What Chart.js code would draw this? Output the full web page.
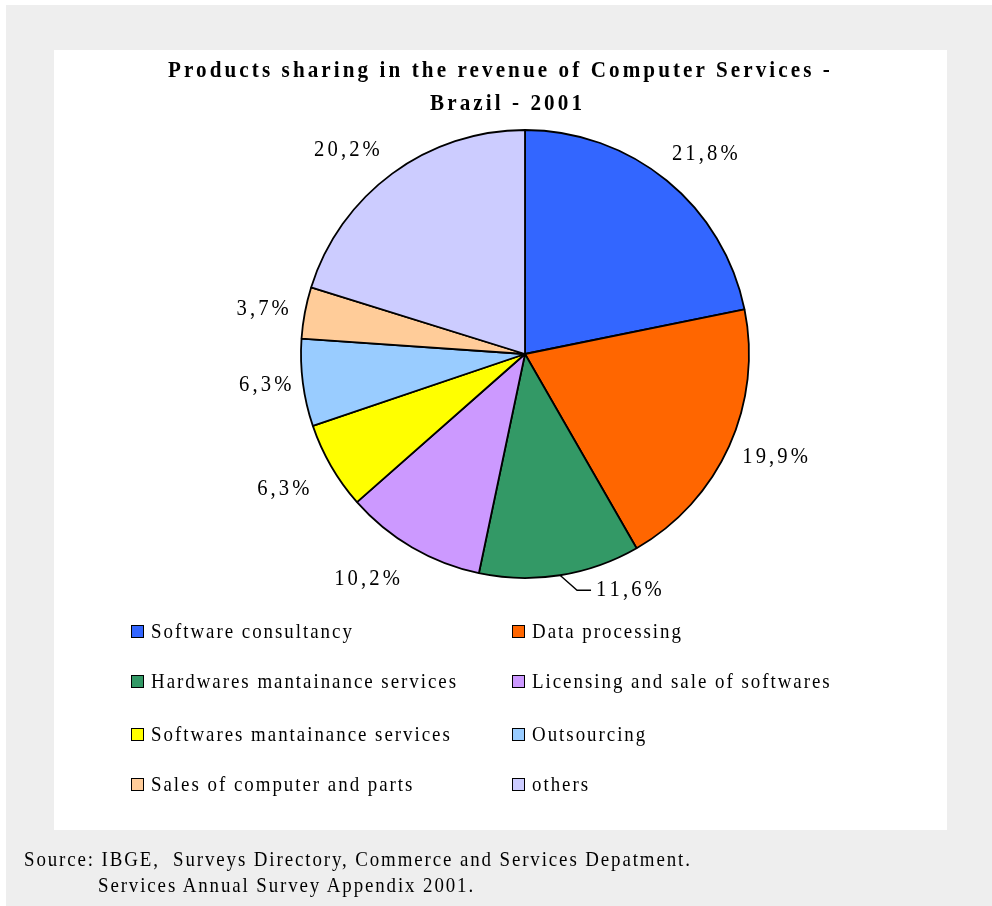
<!DOCTYPE html>
<html>
<head>
<meta charset="utf-8">
<script src="https://cdn.jsdelivr.net/npm/chart.js@4"></script>
<style>
  html, body { margin:0; padding:0; background:#fff; width:992px; height:906px; overflow:hidden; }
  #bg { position:absolute; left:6px; top:5px; width:986px; height:901px; background:#eeeeee; }
  #panel { position:absolute; left:54px; top:50px; width:893px; height:780px; background:#fff; }
  #c { position:absolute; left:0; top:0; }
  .txt { position:absolute; font-family:"Liberation Serif","Times New Roman",serif; color:#000; white-space:nowrap; }
  #title { left:54px; width:893px; top:53px; text-align:center; font-weight:bold; font-size:24px; letter-spacing:3.5px; line-height:33px; transform:scaleX(0.88); transform-origin:50% 0; }
  #title .l2 { position:relative; left:8px; }
  #legend { left:131px; top:620px; display:grid; grid-template-columns:381px 381px; grid-template-rows:50px 53px 50px 30px; }
  .li { display:flex; align-items:flex-start; font-size:21px; height:22px; line-height:22px; }
  .li .lt { display:inline-block; letter-spacing:2.2px; transform:scaleX(0.9); transform-origin:0 0; }
  .mk { width:11px; height:11px; border:1.5px solid #000; margin-right:7px; margin-top:5px; flex:none; }
  .src { font-size:21px; letter-spacing:2.1px; line-height:26px; transform:scaleX(0.9); transform-origin:0 0; }
</style>
</head>
<body>
<div id="bg"></div>
<div id="panel"></div>
<canvas id="c" width="992" height="906"></canvas>
<div id="title" class="txt"></div>
<div id="legend" class="txt"></div>
<div id="src1" class="txt src" style="left:24px; top:846px;"></div>
<div id="src2" class="txt src" style="left:98px; top:872px;"></div>
<script>
const titleLines = ["Products sharing in the revenue of Computer Services -", "Brazil - 2001"];
const categories = [
  "Software consultancy",
  "Data processing",
  "Hardwares mantainance services",
  "Licensing and sale of softwares",
  "Softwares mantainance services",
  "Outsourcing",
  "Sales of computer and parts",
  "others"
];
const shares = [21.8, 19.9, 11.6, 10.2, 6.3, 6.3, 3.7, 20.2];
const colors = ["#3366ff", "#ff6600", "#339966", "#cc99ff", "#ffff00", "#99ccff", "#ffcc99", "#ccccff"];
const sourceLines = [
  "Source: IBGE,\u00a0 Surveys Directory, Commerce and Services Depatment.",
  "Services Annual Survey Appendix 2001."
];
// label placement style: nudges (px) from the radial position
const labelNudge = [[9, 7], [4, -10], [0, 0], [-22, -10], [-8, -2], [8, -6], [3, 3], [-18, 11]];
const leaderIndex = 2;

document.getElementById('title').innerHTML = titleLines[0] + '<br><span class="l2">' + titleLines[1] + '</span>';
document.getElementById('src1').textContent = sourceLines[0];
document.getElementById('src2').textContent = sourceLines[1];
const leg = document.getElementById('legend');
categories.forEach((c, i) => {
  const d = document.createElement('div');
  d.className = 'li';
  d.innerHTML = '<span class="mk" style="background:' + colors[i] + '"></span><span class="lt">' + c + '</span>';
  leg.appendChild(d);
});

function fmt(v) { return v.toFixed(1).replace('.', ',') + '%'; }

const SX = 0.86, LS = 3.1, FS = 24;
function textWidth(ctx, text) {
  let w = 0;
  for (const ch of text) w += ctx.measureText(ch).width * SX;
  return w + LS * (text.length - 1);
}
function drawSpaced(ctx, text, x, yCenter, align) {
  const w = textWidth(ctx, text);
  let sx = align === 'center' ? x - w / 2 : x;
  const base = yCenter + FS * 0.338;
  for (const ch of text) {
    ctx.save();
    ctx.translate(sx, base);
    ctx.scale(SX, 1);
    ctx.fillText(ch, 0, 0);
    ctx.restore();
    sx += ctx.measureText(ch).width * SX + LS;
  }
}

const labelPlugin = {
  id: 'pctLabels',
  afterDatasetsDraw(chart) {
    const ctx = chart.ctx;
    const meta = chart.getDatasetMeta(0);
    ctx.save();
    ctx.font = FS + 'px "Liberation Serif", serif';
    ctx.fillStyle = '#000';
    ctx.textBaseline = 'alphabetic';
    ctx.textAlign = 'left';
    meta.data.forEach((arc, i) => {
      const p = arc.getProps(['x', 'y', 'startAngle', 'endAngle', 'outerRadius'], true);
      const mid = (p.startAngle + p.endAngle) / 2;
      const text = fmt(shares[i]);
      if (i === leaderIndex) {
        const x0 = p.x + Math.cos(mid) * p.outerRadius;
        const y0 = p.y + Math.sin(mid) * p.outerRadius;
        const x1 = x0 + 17, y1 = y0 + 15, x2 = x1 + 14;
        ctx.beginPath();
        ctx.moveTo(x0, y0); ctx.lineTo(x1, y1); ctx.lineTo(x2, y1);
        ctx.strokeStyle = '#000'; ctx.lineWidth = 1.4; ctx.stroke();
        drawSpaced(ctx, text, x2 + 5, y1 - 2, 'left');
      } else {
        const r = p.outerRadius + 46;
        const n = labelNudge[i];
        drawSpaced(ctx, text, p.x + Math.cos(mid) * r + n[0], p.y + Math.sin(mid) * r + n[1], 'center');
      }
    });
    ctx.restore();
  }
};

new Chart(document.getElementById('c'), {
  type: 'pie',
  data: {
    labels: categories,
    datasets: [{
      data: shares,
      backgroundColor: colors,
      borderColor: '#000',
      borderWidth: 1.8
    }]
  },
  options: {
    responsive: false,
    animation: false,
    events: [],
    radius: 224,
    layout: { padding: { left: 301, right: 243, top: 130, bottom: 328 } },
    plugins: { legend: { display: false }, title: { display: false }, tooltip: { enabled: false } }
  },
  plugins: [labelPlugin]
});
</script>
</body>
</html>
